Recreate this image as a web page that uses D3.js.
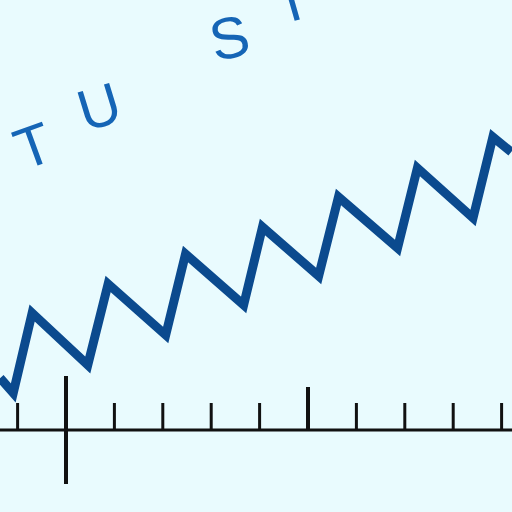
<!DOCTYPE html>
<html>
<head>
<meta charset="utf-8">
<script src="https://cdn.jsdelivr.net/npm/d3@7"></script>
<style>
  html, body { margin: 0; padding: 0; background: #e9fbfe; }
  svg { display: block; }
</style>
</head>
<body>
<svg id="chart" width="512" height="512"></svg>
<script>
// ---- data ----
const lineX = [-1.36, -1.09, -0.70, 0.45, 0.87, 2.06, 2.47, 3.67, 4.06, 5.22, 5.63, 6.85, 7.26, 8.41, 8.82, 9.20];
const lineY = [52, 37, 117, 65, 146, 95, 176, 125, 203, 154, 233, 182, 262, 212, 293, 278];
const tickValues = [-1, 0, 1, 2, 3, 4, 5, 6, 7, 8, 9];
const majorTicks = [0, 5];
const letters = ["T", "U", "S", "T"];
const letterPos = [[-0.68, 285], [0.68, 324], [3.37, 393], [4.66, 430]];
const letterAngle = [-20, -17, -13, -16];

// ---- layout ----
const W = 512, H = 512;
const svg = d3.select("#chart");
svg.append("rect").attr("width", W).attr("height", H).attr("fill", "#e9fbfe");

const x = d3.scaleLinear().domain([0, 5]).range([66, 308]);
const y = d3.scaleLinear().domain([0, 300]).range([430, 130]);

// axis baseline
svg.append("line")
  .attr("x1", 0).attr("x2", W)
  .attr("y1", y(0)).attr("y2", y(0))
  .attr("stroke", "#111").attr("stroke-width", 3);

// ticks
svg.selectAll("line.tick").data(tickValues).enter().append("line")
  .attr("class", "tick")
  .attr("x1", d => x(d)).attr("x2", d => x(d))
  .attr("y1", d => d === 0 ? y(0) + 54 : y(0))
  .attr("y2", d => d === 0 ? y(0) - 54 : (d === 5 ? y(0) - 43 : y(0) - 27))
  .attr("stroke", "#111").attr("stroke-width", d => majorTicks.includes(d) ? 4 : 3);

// sawtooth line
const pts = lineX.map((v, i) => [v, lineY[i]]);
svg.append("path")
  .datum(pts)
  .attr("d", d3.line().x(d => x(d[0])).y(d => y(d[1])))
  .attr("fill", "none")
  .attr("stroke", "#0b4a8e")
  .attr("stroke-width", 9)
  .attr("stroke-linejoin", "miter");

// letters
svg.selectAll("text.letter").data(letters).enter().append("text")
  .attr("class", "letter")
  .attr("transform", (d, i) => `translate(${x(letterPos[i][0])},${y(letterPos[i][1])}) rotate(${letterAngle[i]})`)
  .attr("text-anchor", "middle")
  .attr("dy", "0.36em")
  .attr("font-family", "'Liberation Sans', Arial, sans-serif")
  .attr("font-size", 58)
  .attr("fill", "#1565b6")
  .text(d => d);
</script>
</body>
</html>
